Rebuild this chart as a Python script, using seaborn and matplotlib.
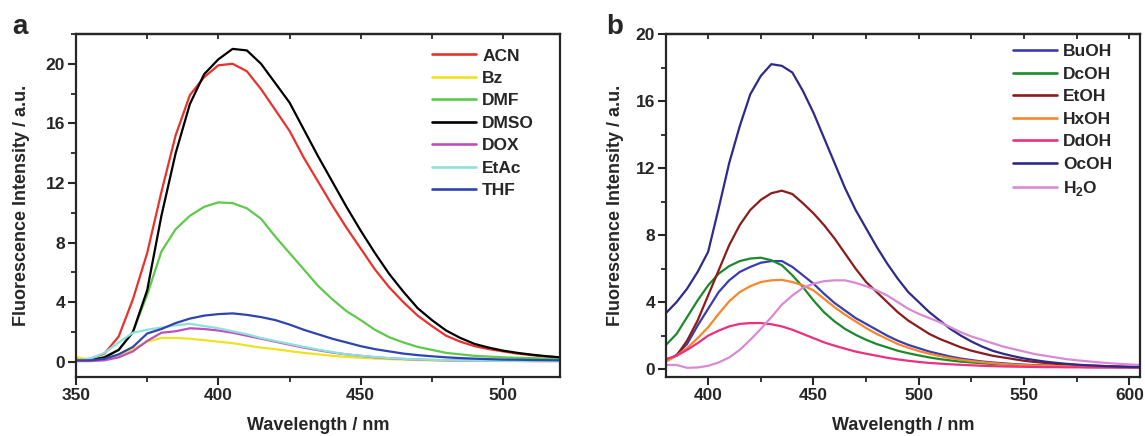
import numpy as np
import pandas as pd
import matplotlib
matplotlib.use("Agg")
import matplotlib.pyplot as plt
import seaborn as sns
from matplotlib.ticker import MultipleLocator

# ---------------- data: panel a ----------------
wl_a = list(range(350, 521, 5))
solvents_a = ["ACN", "Bz", "DMF", "DMSO", "DOX", "EtAc", "THF"]
acn = [0.15, 0.2, 0.55, 1.7, 4.2, 7.3, 11.4, 15.2, 17.9, 19.1, 19.9, 20.0, 19.5, 18.3, 16.9, 15.5, 13.7, 12.1, 10.5,
       9.0, 7.6, 6.2, 5.0, 4.0, 3.1, 2.4, 1.75, 1.35, 1.05, 0.85, 0.7, 0.55, 0.45, 0.35, 0.3]
bz = [0.3, 0.15, 0.2, 0.45, 0.85, 1.35, 1.6, 1.6, 1.55, 1.45, 1.35, 1.25, 1.1, 0.95, 0.85, 0.72, 0.6, 0.5, 0.4,
      0.33, 0.27, 0.22, 0.18, 0.15, 0.12, 0.1, 0.08, 0.07, 0.06, 0.06, 0.05, 0.05, 0.05, 0.05, 0.05]
dmf = [0.1, 0.1, 0.3, 0.8, 2.0, 4.5, 7.4, 8.9, 9.8, 10.4, 10.7, 10.65, 10.3, 9.6, 8.4, 7.3, 6.2, 5.1, 4.2,
       3.4, 2.8, 2.15, 1.65, 1.3, 1.0, 0.8, 0.6, 0.5, 0.4, 0.35, 0.3, 0.27, 0.25, 0.22, 0.2]
dmso = [0.1, 0.1, 0.3, 0.8, 2.0, 4.8, 9.8, 14.0, 17.3, 19.3, 20.3, 21.0, 20.9, 20.0, 18.7, 17.4, 15.6, 13.8, 12.1,
        10.4, 8.8, 7.3, 5.9, 4.7, 3.6, 2.8, 2.1, 1.6, 1.2, 0.95, 0.75, 0.6, 0.48, 0.38, 0.3]
dox = [0.05, 0.05, 0.1, 0.3, 0.7, 1.4, 1.95, 2.05, 2.25, 2.2, 2.1, 1.95, 1.75, 1.55, 1.35, 1.15, 0.95, 0.78, 0.62,
       0.5, 0.4, 0.3, 0.24, 0.19, 0.15, 0.12, 0.1, 0.09, 0.08, 0.07, 0.06, 0.06, 0.05, 0.05, 0.05]
etac = [0.1, 0.2, 0.6, 1.3, 1.95, 2.15, 2.3, 2.45, 2.55, 2.4, 2.25, 2.05, 1.85, 1.6, 1.4, 1.2, 1.0, 0.82, 0.65,
        0.5, 0.4, 0.32, 0.25, 0.2, 0.16, 0.13, 0.11, 0.09, 0.08, 0.07, 0.06, 0.06, 0.05, 0.05, 0.05]
thf = [0.1, 0.1, 0.2, 0.5, 1.0, 1.9, 2.2, 2.6, 2.9, 3.1, 3.2, 3.25, 3.15, 3.0, 2.8, 2.5, 2.15, 1.85, 1.55,
       1.3, 1.05, 0.85, 0.7, 0.55, 0.45, 0.37, 0.3, 0.25, 0.21, 0.18, 0.15, 0.14, 0.12, 0.11, 0.1]
colors_a = ["#e8322b", "#f0e21e", "#5ec94a", "#000000", "#bf4fbf", "#8ee0da", "#2e44b0"]

# ---------------- data: panel b ----------------
wl_b = list(range(380, 606, 5))
solvents_b = ["BuOH", "DcOH", "EtOH", "HxOH", "DdOH", "OcOH", "H2O"]
labels_b = ["BuOH", "DcOH", "EtOH", "HxOH", "DdOH", "OcOH", r"H$_\mathbf{2}$O"]
buoh = [0.5, 0.85, 1.5, 2.6, 3.6, 4.6, 5.3, 5.8, 6.1, 6.35, 6.45, 6.45, 6.1, 5.6, 5.1, 4.5, 3.95, 3.5, 3.05, 2.7,
        2.35, 2.0, 1.7, 1.45, 1.25, 1.05, 0.9, 0.75, 0.63, 0.54, 0.46, 0.4, 0.35, 0.3, 0.27, 0.24, 0.22, 0.2,
        0.18, 0.17, 0.16, 0.15, 0.14, 0.13, 0.12, 0.12]
dcoh = [1.45, 2.1, 3.1, 4.1, 5.0, 5.7, 6.15, 6.45, 6.6, 6.65, 6.5, 6.2, 5.6, 4.9, 4.1, 3.4, 2.85, 2.4, 2.05, 1.75,
        1.5, 1.3, 1.1, 0.95, 0.82, 0.7, 0.6, 0.52, 0.45, 0.4, 0.35, 0.31, 0.28, 0.25, 0.22, 0.2, 0.18, 0.16,
        0.15, 0.14, 0.13, 0.12, 0.12, 0.11, 0.11, 0.1]
etoh = [np.nan, 0.8, 1.7, 2.9, 4.4, 5.9, 7.4, 8.6, 9.5, 10.1, 10.5, 10.65, 10.45, 9.9, 9.3, 8.6, 7.8, 6.9, 6.0, 5.2,
        4.6, 4.0, 3.4, 2.9, 2.5, 2.1, 1.8, 1.55, 1.3, 1.1, 0.95, 0.8, 0.7, 0.6, 0.5, 0.43, 0.37, 0.32, 0.28,
        0.25, 0.22, 0.2, 0.18, 0.16, 0.15, 0.14]
hxoh = [0.45, 0.8, 1.25, 1.85, 2.5, 3.3, 4.05, 4.6, 4.95, 5.2, 5.3, 5.33, 5.2, 5.0, 4.7, 4.2, 3.7, 3.25, 2.85, 2.45,
        2.1, 1.8, 1.5, 1.28, 1.08, 0.92, 0.78, 0.66, 0.56, 0.48, 0.42, 0.36, 0.31, 0.27, 0.24, 0.22, 0.2, 0.18,
        0.17, 0.16, 0.15, 0.14, 0.13, 0.12, 0.12, 0.11]
ddoh = [0.6, 0.8, 1.15, 1.55, 2.0, 2.3, 2.55, 2.7, 2.75, 2.75, 2.68, 2.55, 2.35, 2.1, 1.85, 1.6, 1.4, 1.22, 1.05, 0.92,
        0.8, 0.68, 0.58, 0.5, 0.43, 0.37, 0.33, 0.29, 0.26, 0.23, 0.2, 0.18, 0.16, 0.15, 0.14, 0.13, 0.12, 0.12,
        0.11, 0.11, 0.1, 0.1, 0.1, 0.1, 0.1, 0.1]
ocoh = [3.35, 4.0, 4.8, 5.8, 7.0, 9.6, 12.3, 14.5, 16.4, 17.5, 18.2, 18.1, 17.7, 16.6, 15.3, 13.8, 12.3, 10.8, 9.5,
        8.4, 7.3, 6.3, 5.4, 4.6, 4.0, 3.4, 2.9, 2.4, 2.0, 1.65, 1.35, 1.1, 0.92, 0.77, 0.64, 0.54, 0.45, 0.38,
        0.32, 0.27, 0.23, 0.2, 0.17, 0.15, 0.13, 0.12]
h2o = [0.25, 0.25, 0.08, 0.1, 0.2, 0.4, 0.7, 1.15, 1.75, 2.4, 3.1, 3.85, 4.4, 4.85, 5.1, 5.25, 5.3, 5.3, 5.15, 4.95,
       4.7, 4.4, 4.0, 3.6, 3.3, 3.05, 2.8, 2.5, 2.2, 1.95, 1.75, 1.55, 1.35, 1.2, 1.05, 0.9, 0.8, 0.7, 0.6, 0.53,
       0.47, 0.41, 0.36, 0.32, 0.28, 0.25]
colors_b = ["#3b3cb0", "#1a8a2a", "#8b1c1c", "#f8862a", "#ee2f7f", "#2d2a8a", "#d98ad4"]

series_a = [acn, bz, dmf, dmso, dox, etac, thf]
series_b = [buoh, dcoh, etoh, hxoh, ddoh, ocoh, h2o]

df_a = pd.concat([pd.DataFrame({"wl": wl_a, "I": s, "solvent": n}) for n, s in zip(solvents_a, series_a)],
                 ignore_index=True)
df_b = pd.concat([pd.DataFrame({"wl": wl_b, "I": s, "solvent": n}) for n, s in zip(solvents_b, series_b)],
                 ignore_index=True).dropna().reset_index(drop=True)

# ---------------- style ----------------
sns.set_style("ticks")
plt.rcParams["font.family"] = ["Liberation Sans", "DejaVu Sans"]
plt.rcParams["font.weight"] = "bold"
plt.rcParams["axes.labelweight"] = "bold"
plt.rcParams["mathtext.fontset"] = "custom"
plt.rcParams["mathtext.rm"] = "Liberation Sans:bold"
plt.rcParams["mathtext.bf"] = "Liberation Sans:bold"

fig = plt.figure(figsize=(11.45, 4.36), dpi=100)
ax_a = fig.add_axes([76 / 1145, 1 - 376.7 / 436, 484 / 1145, 342.7 / 436])
ax_b = fig.add_axes([666 / 1145, 1 - 376.7 / 436, 474 / 1145, 342.7 / 436])


def style(ax, df, order, colors, labels, xlim, ylim, xmaj, leg_anchor, ylabpad):
    sns.lineplot(data=df, x="wl", y="I", hue="solvent", hue_order=order,
                 palette=colors, estimator=None, linewidth=1.6, ax=ax, legend=True)
    ax.set_xlim(*xlim)
    ax.set_ylim(*ylim)
    ax.xaxis.set_major_locator(MultipleLocator(xmaj))
    ax.xaxis.set_minor_locator(MultipleLocator(25))
    ax.yaxis.set_major_locator(MultipleLocator(4))
    ax.yaxis.set_minor_locator(MultipleLocator(2))
    ax.tick_params(axis="both", which="major", direction="out", length=5.5, width=1.5,
                   labelsize=12.5, pad=2.5)
    ax.tick_params(axis="both", which="minor", direction="out", length=3.6, width=1.3)
    for sp in ax.spines.values():
        sp.set_visible(True)
        sp.set_linewidth(1.6)
    sec = ax.secondary_xaxis("top")
    sec.xaxis.set_major_locator(MultipleLocator(25))
    sec.tick_params(axis="x", direction="in", length=3.5, width=1.3, labeltop=False)
    sec.spines["top"].set_linewidth(1.6)
    ax.set_xlabel("Wavelength / nm", fontsize=13, fontweight="bold", labelpad=10)
    ax.set_ylabel("Fluorescence Intensity / a.u.", fontsize=13, fontweight="bold", labelpad=ylabpad)
    for lab in ax.get_xticklabels() + ax.get_yticklabels():
        lab.set_fontweight("bold")
    handles, _ = ax.get_legend_handles_labels()
    for h in handles:
        h.set_linewidth(1.9)
    ax.legend(handles, labels, loc="upper left", bbox_to_anchor=leg_anchor, frameon=False,
              handlelength=2.55, handletextpad=0.35, labelspacing=0.42,
              borderpad=0, borderaxespad=0, prop={"weight": "bold", "size": 12.5})


style(ax_a, df_a, solvents_a, colors_a, solvents_a, (350, 520), (-1, 22), 50, (0.735, 0.958), 11)
style(ax_b, df_b, solvents_b, colors_b, labels_b, (380, 605), (-0.45, 20), 50, (0.732, 0.97), 8)

fig.text(12 / 1145, 1 - 33.5 / 436, "a", fontsize=20, fontweight="bold", va="baseline")
fig.text(606 / 1145, 1 - 34 / 436, "b", fontsize=20, fontweight="bold", va="baseline")

fig.savefig("out.png", dpi=100)
